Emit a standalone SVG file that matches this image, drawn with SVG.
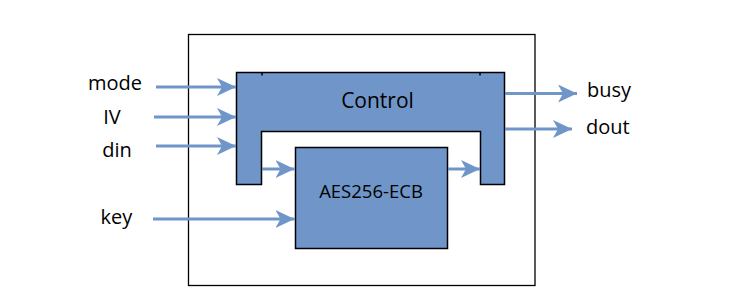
<svg xmlns="http://www.w3.org/2000/svg" width="730" height="304" viewBox="0 0 730 304">
<style>
.lbl{font-family:"Open Sans","Noto Sans",sans-serif;font-size:20px;fill:#000}
.blk{fill:#7096c9;stroke:#000;stroke-width:1.5}
.wire{stroke:#7096c9;stroke-width:3;fill:none}
.head{fill:#7096c9}
</style>
<defs>
<marker id="ah" viewBox="0 0 19 18" refX="19" refY="9" markerWidth="19" markerHeight="18" markerUnits="userSpaceOnUse" orient="auto">
<path d="M0,0 L19,9 L0,18 L5,9 Z" class="head"/>
</marker>
</defs>
<g id="outer"><rect x="188.5" y="34.5" width="346.5" height="251" fill="#fff" stroke="#000" stroke-width="1.3"/></g>
<g id="control">
<path class="blk" d="M236.5,72.5 H504.5 V184.5 H480.5 V131.5 H261.5 V184.5 H236.5 Z"/>
<path d="M262,72 V75.5 M480,72 V75.5" stroke="#000" stroke-width="1.5"/>
<text class="lbl" x="377.5" y="107.5" text-anchor="middle" style="font-size:21px">Control</text>
</g>
<g id="aes">
<rect class="blk" x="295.5" y="147.5" width="152" height="101"/>
<text class="lbl" x="371" y="198" text-anchor="middle" style="font-size:18.5px">AES256-ECB</text>
</g>
<g id="labels">
<text class="lbl" x="115" y="90" text-anchor="middle">mode</text>
<text class="lbl" x="112" y="123.5" text-anchor="middle">IV</text>
<text class="lbl" x="117" y="157" text-anchor="middle">din</text>
<text class="lbl" x="116.5" y="224" text-anchor="middle">key</text>
<text class="lbl" x="587" y="97">busy</text>
<text class="lbl" x="586" y="133.5">dout</text>
</g>
<g id="connectors">
<line class="wire" x1="156" y1="87" x2="236" y2="87" marker-end="url(#ah)"/>
<line class="wire" x1="154" y1="117" x2="236" y2="117" marker-end="url(#ah)"/>
<line class="wire" x1="156" y1="146" x2="236" y2="146" marker-end="url(#ah)"/>
<line class="wire" x1="153" y1="219" x2="294.5" y2="219" marker-end="url(#ah)"/>
<line class="wire" x1="262" y1="169" x2="294.5" y2="169" marker-end="url(#ah)"/>
<line class="wire" x1="448" y1="169" x2="480" y2="169" marker-end="url(#ah)"/>
<line class="wire" x1="505" y1="93.5" x2="577" y2="93.5" marker-end="url(#ah)"/>
<line class="wire" x1="505" y1="129" x2="572" y2="129" marker-end="url(#ah)"/>
</g>
</svg>
